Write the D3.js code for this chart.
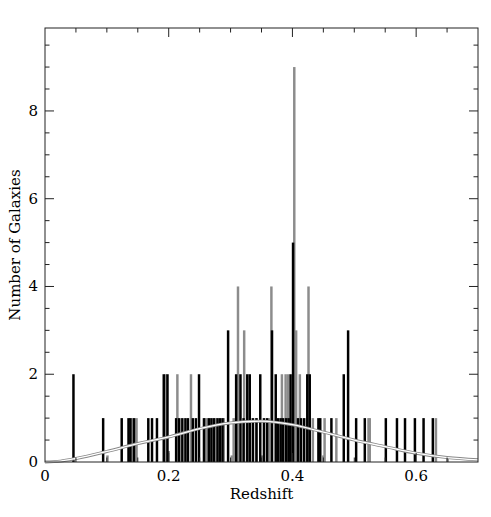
<!DOCTYPE html>
<html>
<head>
<meta charset="utf-8">
<script src="https://cdn.jsdelivr.net/npm/d3@7"></script>
<style>
  body { margin: 0; background: #fff; }
  svg text { font-family: 'DejaVu Serif', serif; fill: #000; }
</style>
</head>
<body>
<svg id="chart" width="491" height="517"></svg>
<script>
// black histogram: redshift of bin, count
const blackZ = [0.046, 0.094, 0.124, 0.135, 0.138, 0.144, 0.167, 0.173, 0.181, 0.192, 0.198,
  0.212, 0.217, 0.222, 0.227, 0.231, 0.239, 0.244, 0.249, 0.257, 0.265, 0.269, 0.273, 0.279, 0.283,
  0.287, 0.296, 0.309, 0.316, 0.321, 0.327, 0.331, 0.336, 0.342, 0.348, 0.354, 0.359, 0.367, 0.373,
  0.377, 0.381, 0.385, 0.390, 0.394, 0.397, 0.401, 0.409, 0.414, 0.419, 0.424, 0.428, 0.442, 0.445, 0.463,
  0.483, 0.490, 0.503, 0.517, 0.551, 0.569, 0.582, 0.598, 0.612, 0.627];
const blackN = [2, 1, 1, 1, 1, 1, 1, 1, 1, 2, 2,
  1, 1, 1, 1, 1, 1, 1, 2, 1, 1, 1, 1, 1, 1,
  1, 3, 2, 2, 1, 2, 2, 1, 1, 2, 1, 1, 3, 2,
  1, 1, 1, 1, 1, 2, 5, 1, 1, 1, 2, 2, 1, 1, 1,
  2, 3, 1, 1, 1, 1, 1, 1, 1, 1];

// grey histogram
const greyZ = [0.101, 0.141, 0.148, 0.195, 0.200, 0.214, 0.236, 0.259, 0.262, 0.276, 0.289,
  0.302, 0.305, 0.312, 0.322, 0.341, 0.351, 0.362, 0.366, 0.383, 0.389, 0.393, 0.403, 0.406, 0.412,
  0.426, 0.433, 0.450, 0.452, 0.471, 0.523, 0.525, 0.632, 0.651];
const greyN = [0.15, 1, 1, 2, 0.25, 2, 2, 1, 1, 1, 1,
  0.15, 1, 4, 3, 1, 0.15, 1, 4, 2, 2, 2, 9, 3, 2,
  4, 1, 0.15, 1, 1, 1, 1, 1, 0.1];

// model curve
const curveZ = [0, 0.025, 0.05, 0.1, 0.15, 0.2, 0.25, 0.3, 0.35, 0.4, 0.45, 0.5, 0.55, 0.6, 0.65, 0.7];
const curveN = [0, 0.02, 0.08, 0.24, 0.42, 0.57, 0.76, 0.89, 0.93, 0.85, 0.68, 0.50, 0.35, 0.20, 0.10, 0.05];

const xTicks = [0, 0.2, 0.4, 0.6];
const yTicks = [0, 2, 4, 6, 8];

const svg = d3.select('#chart');
const margin = {top: 28, right: 13, bottom: 55, left: 45};
const width = +svg.attr('width') - margin.left - margin.right;
const height = +svg.attr('height') - margin.top - margin.bottom;
const binW = 0.004;

const x = d3.scaleLinear().domain([0, 0.7]).range([0, width]);
const y = d3.scaleLinear().domain([0, 9.89]).range([height, 0]);

const g = svg.append('g').attr('transform', `translate(${margin.left},${margin.top})`);

function drawBars(zs, ns, color) {
  const data = zs.map((z, i) => ({z: z, n: ns[i]}));
  g.append('g').selectAll('rect').data(data).enter().append('rect')
    .attr('x', d => x(d.z) - (x(binW) - x(0)) / 2)
    .attr('width', x(binW) - x(0))
    .attr('y', d => y(d.n))
    .attr('height', d => y(0) - y(d.n))
    .attr('fill', color);
}
drawBars(greyZ, greyN, '#8c8c8c');
drawBars(blackZ, blackN, '#000');

const line = d3.line()
  .x((d, i) => x(curveZ[i]))
  .y(d => y(d))
  .curve(d3.curveMonotoneX);
g.append('path').datum(curveN).attr('d', line)
  .attr('fill', 'none').attr('stroke', '#888').attr('stroke-width', 3);
g.append('path').datum(curveN).attr('d', line)
  .attr('fill', 'none').attr('stroke', '#fff').attr('stroke-width', 1.3);

// frame + ticks (inward, on all four sides)
const ax = '#222';
g.append('rect').attr('width', width).attr('height', height)
  .attr('fill', 'none').attr('stroke', ax).attr('stroke-width', 1);

const xMinor = d3.range(0.05, 0.7, 0.05);
xMinor.forEach(v => {
  const major = Math.abs(v / 0.2 - Math.round(v / 0.2)) < 1e-6;
  const len = major ? 9 : 4.5;
  g.append('line').attr('x1', x(v)).attr('x2', x(v)).attr('y1', height).attr('y2', height - len).attr('stroke', ax);
  g.append('line').attr('x1', x(v)).attr('x2', x(v)).attr('y1', 0).attr('y2', len).attr('stroke', ax);
});
const yMinor = d3.range(0.5, 9.9, 0.5);
yMinor.forEach(v => {
  const major = Math.abs(v / 2 - Math.round(v / 2)) < 1e-6;
  const len = major ? 9 : 4.5;
  g.append('line').attr('y1', y(v)).attr('y2', y(v)).attr('x1', 0).attr('x2', len).attr('stroke', ax);
  g.append('line').attr('y1', y(v)).attr('y2', y(v)).attr('x1', width).attr('x2', width - len).attr('stroke', ax);
});

g.selectAll('.xt').data(xTicks).enter().append('text')
  .attr('x', d => x(d)).attr('y', height + 19)
  .attr('text-anchor', 'middle').attr('font-size', 15)
  .text(d => d);
g.selectAll('.yt').data(yTicks).enter().append('text')
  .attr('x', -7).attr('y', d => y(d) + 5)
  .attr('text-anchor', 'end').attr('font-size', 15)
  .text(d => d);

g.append('text').attr('x', width / 2).attr('y', height + 37)
  .attr('text-anchor', 'middle').attr('font-size', 15).text('Redshift');
g.append('text').attr('transform', `translate(-25,${height / 2}) rotate(-90)`)
  .attr('text-anchor', 'middle').attr('font-size', 15).text('Number of Galaxies');
</script>
</body>
</html>
